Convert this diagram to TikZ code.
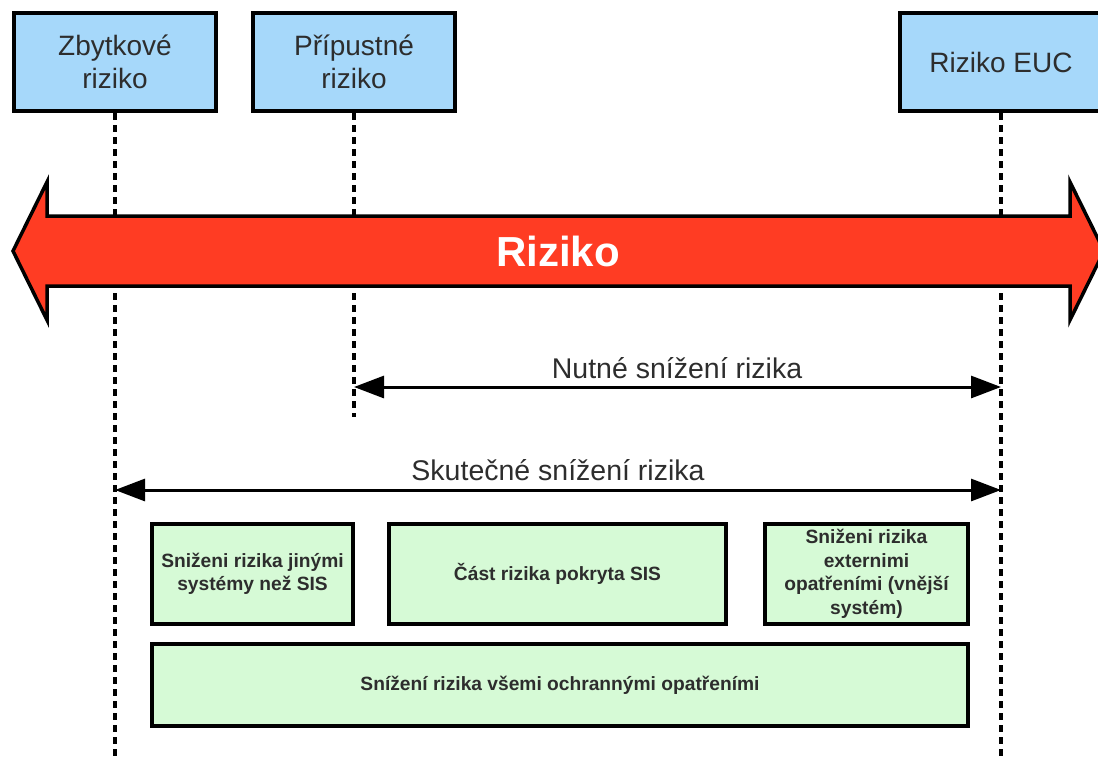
\documentclass[tikz,border=0pt]{standalone}
\usepackage{fontspec}
\setmainfont{Liberation Sans}
\usetikzlibrary{arrows.meta}
\definecolor{riskblue}{RGB}{166,216,250}
\definecolor{riskgreen}{RGB}{214,250,214}
\definecolor{riskred}{RGB}{255,60,35}
\definecolor{ink}{RGB}{45,45,45}

\begin{document}
\begin{tikzpicture}[x=1pt,y=-1pt,
  levelbox/.style={draw=black, line width=4pt, fill=riskblue,
    minimum width=202pt, minimum height=98pt, inner sep=0pt,
    align=center, text=ink, font=\fontsize{28}{33}\selectfont},
  measbox/.style={draw=black, line width=4pt, fill=riskgreen,
    inner sep=0pt, align=center, text=ink,
    font=\fontsize{19.2}{23.5}\selectfont\bfseries},
  guide/.style={line width=3.5pt, dash pattern=on 7pt off 5pt},
  span/.style={line width=3pt,
    {Triangle[length=30pt,width=22pt]}-{Triangle[length=30pt,width=22pt]}},
  spanlabel/.style={text=ink, font=\fontsize{28.5}{33}\selectfont,
    inner sep=0pt, anchor=base}]

\clip (0,0) rectangle (1098,758);

% risk levels
\node[levelbox] (zb)  at (115,62)  {Zbytkové\\riziko};
\node[levelbox] (pr)  at (354,62)  {Přípustné\\riziko};
\node[levelbox] (euc) at (1001,62) {Riziko EUC};

% vertical guides from each level
\coordinate (zbEnd)  at (zb.south  |- 0,760);
\coordinate (prEnd)  at (pr.south  |- 0,417);
\coordinate (eucEnd) at (euc.south |- 0,760);
\draw[guide] (zb.south)  -- (zbEnd);
\draw[guide] (pr.south)  -- (prEnd);
\draw[guide] (euc.south) -- (eucEnd);

% the risk axis
\draw[line width=3.5pt, line join=miter, fill=riskred]
  (13,251) -- (47,182) -- (47,216) -- (1070,216) -- (1070,182)
  -- (1104,251) -- (1070,320) -- (1070,286) -- (47,286) -- (47,320) -- cycle;
\node[text=white, font=\fontsize{42}{48}\selectfont\bfseries] (riz) at (558,251) {Riziko};

% required reduction
\coordinate (nL) at (pr.south  |- 0,387);
\coordinate (nR) at (euc.south |- 0,387);
\draw[span] (nL) -- (nR);
\node[spanlabel] (nLab) at (677,378) {Nutné snížení rizika};

% actual reduction
\coordinate (sL) at (zb.south  |- 0,490);
\coordinate (sR) at (euc.south |- 0,490);
\draw[span] (sL) -- (sR);
\node[spanlabel] (sLab) at (558,480) {Skutečné snížení rizika};

% protective measures
\node[measbox, minimum width=201pt, minimum height=100pt] (other) at (252.5,574)
  {Sniženi rizika jinými\\systémy než SIS};
\node[measbox, minimum width=337pt, minimum height=100pt] (sis) at (557.5,574)
  {Část rizika pokryta SIS};
\node[measbox, minimum width=203pt, minimum height=100pt] (ext) at (866.5,574)
  {Sniženi rizika\\externimi\\opatřeními (vnější\\systém)};
\node[measbox, minimum width=816pt, minimum height=82pt] (all) at (560,685)
  {Snížení rizika všemi ochrannými opatřeními};
\end{tikzpicture}
\end{document}
